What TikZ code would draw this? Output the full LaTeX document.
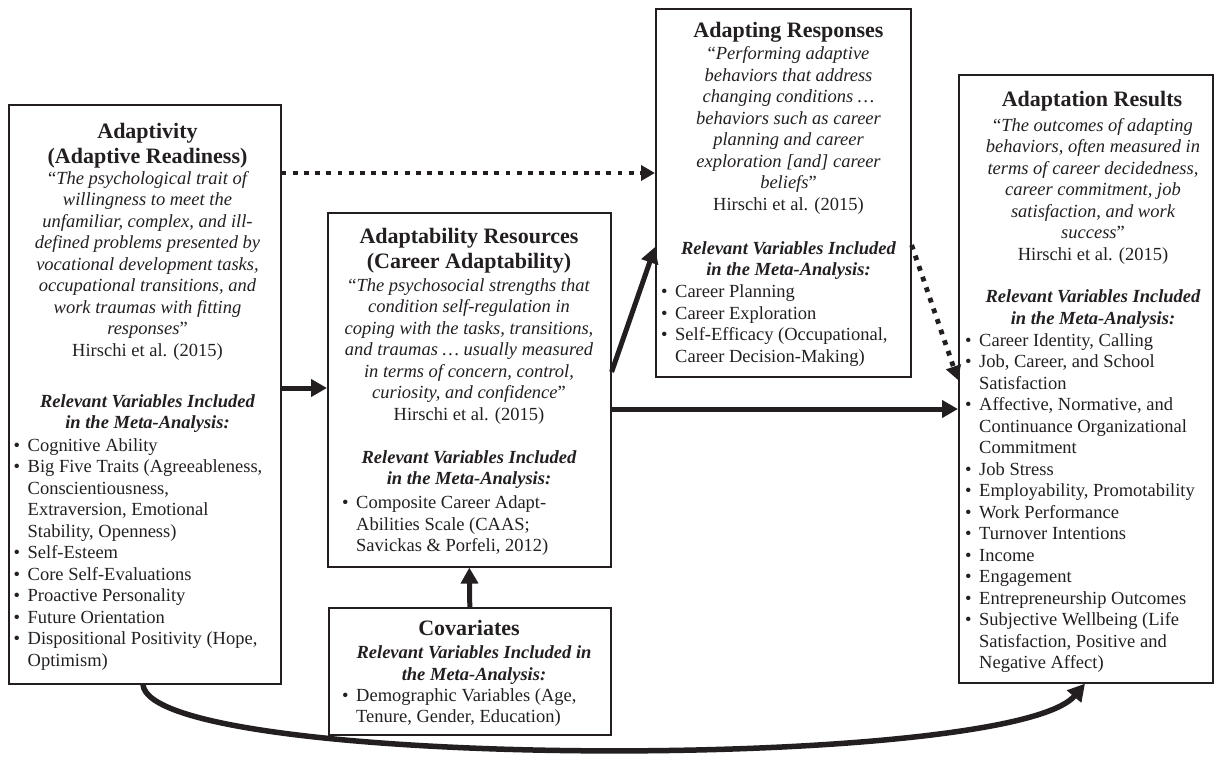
\documentclass[tikz,border=0pt]{standalone}
\usepackage{fontspec}
\setmainfont{Liberation Serif}
\usetikzlibrary{arrows.meta,calc}
\definecolor{ink}{HTML}{231F20}
\newcommand\bi{\makebox[14pt][l]{\textbullet}}
\newcommand\bc{\makebox[14pt][l]{}}
\tikzset{
  box/.style={draw=ink, line width=1.6pt, inner sep=0pt, anchor=north west},
  ttl/.style={font=\fontsize{22}{25}\selectfont\bfseries, align=center, anchor=north, inner sep=0pt, text=ink},
  qt/.style={font=\fontsize{18.5}{21.5}\selectfont\itshape, align=center, anchor=north, inner sep=0pt, text=ink},
  relv/.style={font=\fontsize{18.5}{21.5}\selectfont\bfseries\itshape, align=center, anchor=north, inner sep=0pt, text=ink},
  blist/.style={font=\fontsize{18.5}{21.5}\selectfont, align=left, anchor=north west, inner sep=0pt, text=ink},
  solidarrow/.style={draw=ink, line width=5pt, -{Triangle[length=16pt,width=17pt]}},
  dotarrow/.style={draw=ink, line width=4.8pt, dash pattern=on 4.8pt off 6.4pt, -{Triangle[length=14pt,width=15pt]}},
  curvearrow/.style={draw=ink, line width=5.5pt, -{Triangle[length=17pt,width=18pt]}},
}
\begin{document}
\begin{tikzpicture}[x=1pt,y=-1pt]
\useasboundingbox (0,0) rectangle (1215,757);
% boxes
\node[box, minimum width=272pt, minimum height=579pt] (adaptivity) at (8,104) {};
\node[box, minimum width=283pt, minimum height=354pt] (resources) at (327,212) {};
\node[box, minimum width=282pt, minimum height=127pt] (covariates) at (328,607) {};
\node[box, minimum width=255pt, minimum height=368pt] (responses) at (655,8) {};
\node[box, minimum width=254pt, minimum height=608pt] (results) at (958,74) {};

% Adaptivity texts
\node[ttl] (adtitle) at (147.5,123.5) {Adaptivity\\(Adaptive Readiness)};
\node[qt] (adquote) at (147.5,171) {\textup{“}The psychological trait of\\willingness to meet the\\unfamiliar, complex, and ill-\\defined problems presented by\\vocational development tasks,\\occupational transitions, and\\work traumas with fitting\\responses\textup{”}\\\textup{Hirschi et al. (2015)}};
\node[relv] (adrel) at (147.5,394) {Relevant Variables Included\\in the Meta-Analysis:};
\node[blist] (adlist) at (13.5,438) {\bi Cognitive Ability\\\bi Big Five Traits (Agreeableness,\\\bc Conscientiousness,\\\bc Extraversion, Emotional\\\bc Stability, Openness)\\\bi Self-Esteem\\\bi Core Self-Evaluations\\\bi Proactive Personality\\\bi Future Orientation\\\bi Dispositional Positivity (Hope,\\\bc Optimism)};

% Resources texts
\node[ttl] (retitle) at (469,228.5) {Adaptability Resources\\(Career Adaptability)};
\node[qt] (requote) at (469,278) {\textup{“}The psychosocial strengths that\\condition self-regulation in\\coping with the tasks, transitions,\\and traumas … usually measured\\in terms of concern, control,\\curiosity, and confidence\textup{”}\\\textup{Hirschi et al. (2015)}};
\node[relv] (rerel) at (469,450.3) {Relevant Variables Included\\in the Meta-Analysis:};
\node[blist] (relist) at (342,495.7) {\bi Composite Career Adapt-\\\bc Abilities Scale (CAAS;\\\bc Savickas \& Porfeli, 2012)};

% Covariates texts
\node[ttl] (cotitle) at (469,620.3) {Covariates};
\node[relv] (corel) at (474,645.7) {Relevant Variables Included in\\the Meta-Analysis:};
\node[blist] (colist) at (342,688) {\bi Demographic Variables (Age,\\\bc Tenure, Gender, Education)};

% Adapting Responses texts
\node[ttl] (rstitle) at (788.5,22) {Adapting Responses};
\node[qt] (rsquote) at (788.5,46.3) {\textup{“}Performing adaptive\\behaviors that address\\changing conditions …\\behaviors such as career\\planning and career\\exploration [and] career\\beliefs\textup{”}\\\textup{Hirschi et al. (2015)}};
\node[relv] (rsrel) at (788.5,241.3) {Relevant Variables Included\\in the Meta-Analysis:};
\node[blist] (rslist) at (661,284.7) {\bi Career Planning\\\bi Career Exploration\\\bi Self-Efficacy (Occupational,\\\bc Career Decision-Making)};

% Adaptation Results texts
\node[ttl] (rttitle) at (1092,91) {Adaptation Results};
\node[qt] (rtquote) at (1093,118) {\textup{“}The outcomes of adapting\\behaviors, often measured in\\terms of career decidedness,\\career commitment, job\\satisfaction, and work\\success\textup{”}\\\textup{Hirschi et al. (2015)}};
\node[relv] (rtrel) at (1093,289.7) {Relevant Variables Included\\in the Meta-Analysis:};
\node[blist] (rtlist) at (965,333) {\bi Career Identity, Calling\\\bi Job, Career, and School\\\bc Satisfaction\\\bi Affective, Normative, and\\\bc Continuance Organizational\\\bc Commitment\\\bi Job Stress\\\bi Employability, Promotability\\\bi Work Performance\\\bi Turnover Intentions\\\bi Income\\\bi Engagement\\\bi Entrepreneurship Outcomes\\\bi Subjective Wellbeing (Life\\\bc Satisfaction, Positive and\\\bc Negative Affect)};

% helper coordinates
\coordinate (ya) at (0,173);
\coordinate (yb) at (0,388);
\coordinate (yc) at (0,372);
\coordinate (yd) at (0,247);
\coordinate (ye) at (0,409);
\coordinate (yf) at (0,245);
\coordinate (yg) at (0,380);
\coordinate (xa) at (143,0);
\coordinate (xb) at (1085,0);

% connectors
\draw[dotarrow] (adaptivity.east |- ya) -- (responses.west |- ya);
\draw[solidarrow] (adaptivity.east |- yb) -- (resources.west |- yb);
\draw[solidarrow] (resources.east |- yc) -- (responses.west |- yd);
\draw[solidarrow] (resources.east |- ye) -- (results.west |- ye);
\draw[dotarrow] (responses.east |- yf) -- (results.west |- yg);
\draw[solidarrow] (covariates.north) -- (resources.south);
\draw[curvearrow] (adaptivity.south -| xa) .. controls (150,770) and (1010,772) .. (results.south -| xb);
\end{tikzpicture}
\end{document}
